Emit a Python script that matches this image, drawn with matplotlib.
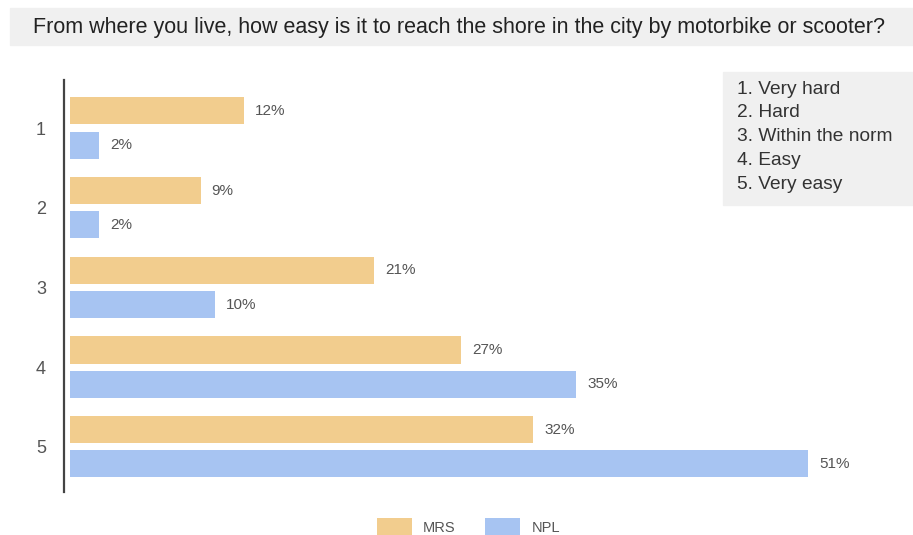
import numpy as np
import matplotlib.pyplot as plt
from matplotlib.patches import Rectangle

# Answer categories and survey shares (%)
categories = ['1', '2', '3', '4', '5']
mrs = [12, 9, 21, 27, 32]
npl = [2, 2, 10, 35, 51]
series_names = ['MRS', 'NPL']
key_lines = ['1. Very hard', '2. Hard', '3. Within the norm', '4. Easy', '5. Very easy']
title = 'From where you live, how easy is it to reach the shore in the city by motorbike or scooter?'

MRS_COLOR = '#f2cd8e'
NPL_COLOR = '#a7c4f2'
TEXT_COLOR = '#555555'

plt.rcParams['font.family'] = ['Liberation Sans', 'DejaVu Sans']

fig = plt.figure(figsize=(9.13, 5.35), dpi=100)
ax = fig.add_axes([0.070, 0.080, 0.894, 0.770])

y = np.arange(1, len(categories) + 1)
h = 0.34
off = 0.215
bars_mrs = ax.barh(y - off, mrs, height=h, color=MRS_COLOR, label=series_names[0])
bars_npl = ax.barh(y + off, npl, height=h, color=NPL_COLOR, label=series_names[1])

# Value labels at the end of each bar
for bars, vals in [(bars_mrs, mrs), (bars_npl, npl)]:
    for b, v in zip(bars, vals):
        ax.annotate(f'{v}%', (b.get_width(), b.get_y() + b.get_height() / 2),
                    xytext=(8, 0), textcoords='offset points',
                    va='center', ha='left', fontsize=11, color=TEXT_COLOR)

ax.set_xlim(-0.45, 56)
ax.set_ylim(5.57, 0.4)
ax.set_yticks(y)
ax.set_yticklabels(categories)
ax.set_xticks([])
ax.tick_params(axis='y', length=0, pad=13, labelsize=13, labelcolor=TEXT_COLOR)
for s in ['top', 'right', 'bottom']:
    ax.spines[s].set_visible(False)
ax.spines['left'].set_color('#444444')
ax.spines['left'].set_linewidth(1.6)

# Title band
fig.patches.append(Rectangle((0.011, 1 - 45 / 535), 0.989, 37 / 535,
                             transform=fig.transFigure, color='#f0f0f0', zorder=0))
fig.text(0.503, 1 - 27 / 535, title, ha='center', va='center', fontsize=15.5, color='#222222')

# Key box on the right
fig.patches.append(Rectangle((723 / 913, 1 - 205 / 535), 190 / 913, 133 / 535,
                             transform=fig.transFigure, color='#f0f0f0', zorder=0))
for i, line in enumerate(key_lines):
    fig.text(737 / 913, 1 - (89 + 23.8 * i) / 535, line, ha='left', va='center',
             fontsize=13.8, color='#333333')

fig.legend(handles=[bars_mrs, bars_npl], labels=series_names, loc='center',
           bbox_to_anchor=(0.513, 1 - 527 / 535), ncol=2, frameon=False,
           fontsize=10.5, handlelength=2.4, handleheight=1.6, columnspacing=2.0,
           labelcolor=TEXT_COLOR)

fig.savefig('out.png', dpi=100)
